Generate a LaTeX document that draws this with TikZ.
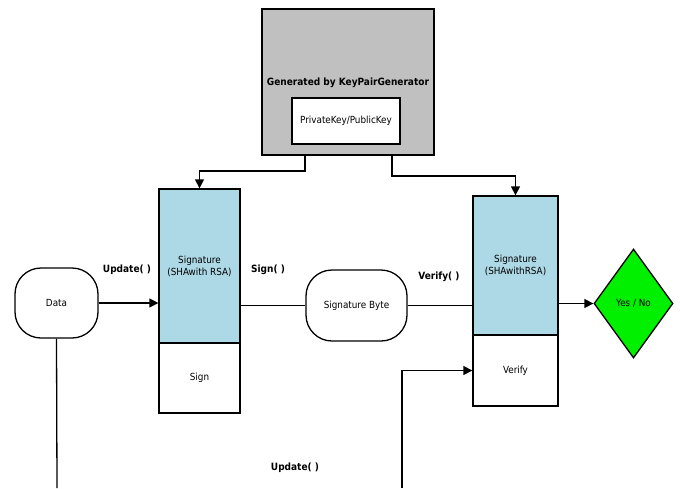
\documentclass[tikz,border=0pt]{standalone}
\usepackage{fontspec}
\setmainfont{DejaVu Sans Condensed}
\usetikzlibrary{arrows.meta,shapes.geometric}
\definecolor{keygray}{RGB}{192,192,192}
\definecolor{siglblue}{RGB}{173,216,230}
\definecolor{yesgreen}{RGB}{0,240,0}
\begin{document}
\begin{tikzpicture}[x=1pt, y=-1pt, line width=1.3pt, font=\fontsize{9.8}{12}\selectfont,
  box/.style = {draw, rectangle, inner sep=0pt, align=center},
  term/.style = {draw, rectangle, rounded corners=26pt, inner sep=0pt},
  lbl/.style = {font=\fontsize{10}{12}\selectfont\bfseries},
  arr/.style = {-{Triangle[length=9pt, width=9pt]}}]
\useasboundingbox (0,0) rectangle (680,488);
\node[box, fill=keygray, line width=1.8pt, minimum width=172pt, minimum height=146pt] (gen) at (348,82) {};
\node[lbl] (gentext) at (348,83) {Generated by KeyPairGenerator};
\node[box, fill=white, minimum width=108pt, minimum height=46pt] (keys) at (346,121) {PrivateKey/PublicKey};
\node[box, fill=siglblue, minimum width=81pt, minimum height=154pt] (sigL) at (199.5,266) {Signature\\(SHAwith RSA)};
\node[box, minimum width=81pt, minimum height=70pt] (signbox) at (199.5,378) {Sign};
\node[term, minimum width=83pt, minimum height=70pt] (data) at (56.5,303) {Data};
\node[term, minimum width=101pt, minimum height=71pt] (sigbyte) at (356.5,305.5) {Signature Byte};
\node[box, fill=siglblue, minimum width=85pt, minimum height=139pt] (sigR) at (515.5,265.5) {Signature\\(SHAwithRSA)};
\node[box, minimum width=85pt, minimum height=71pt] (verifybox) at (515.5,370.5) {Verify};
\node[draw, diamond, fill=yesgreen, inner sep=0pt, minimum width=79pt, minimum height=109pt] (yesno) at (633.5,303.5) {Yes / No};
\node[lbl] (upd1) at (127,270) {Update( )};
\node[lbl] (sign1) at (268,270) {Sign( )};
\node[lbl] (ver1) at (439,277) {Verify( )};
\node[lbl] (upd2) at (295,468) {Update( )};
\coordinate (dataend) at (57,488);
\coordinate (updstart) at (402,488);
\draw[arr] ([xshift=-43pt]gen.south) -- ++(0,15) -| (sigL.north);
\draw[arr] ([xshift=44pt]gen.south) -- ++(0,20) -| (sigR.north);
\draw[arr] (data.east) -- (data.east -| sigL.west);
\draw (sigL.east |- sigbyte.west) -- (sigbyte.west);
\draw (sigbyte.east) -- (sigbyte.east -| sigR.west);
\draw[arr] (sigR.east |- yesno.west) -- (yesno.west);
\draw (data.south) -- (dataend);
\draw[arr] (updstart) |- (verifybox.west);
\end{tikzpicture}
\end{document}
